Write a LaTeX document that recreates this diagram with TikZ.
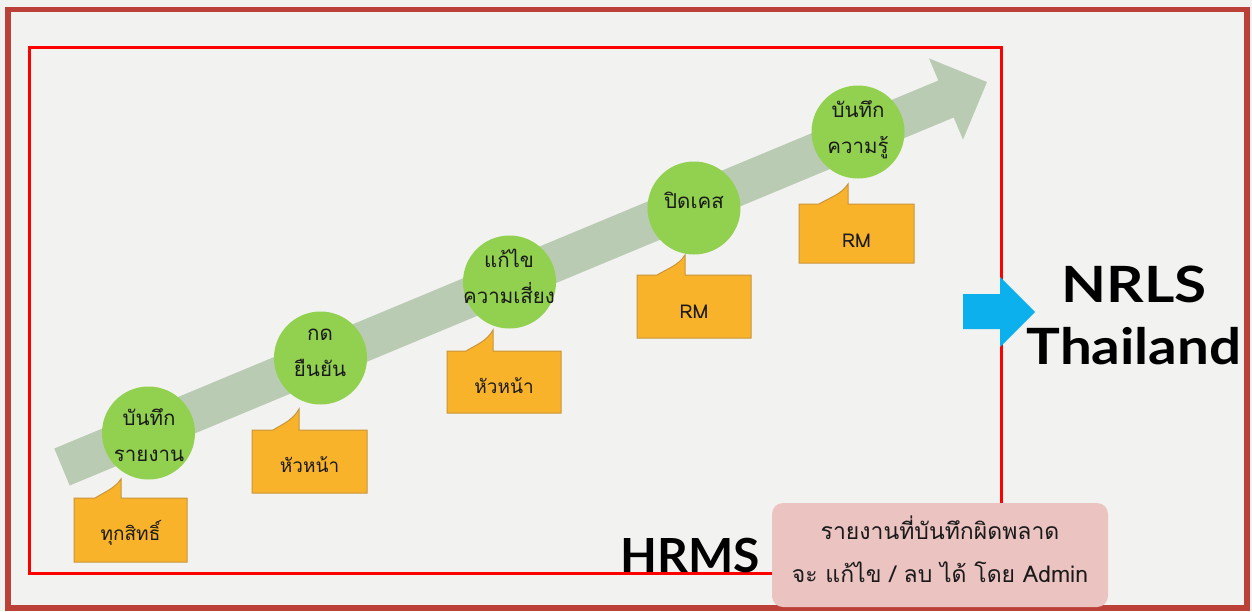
\documentclass[tikz,border=0pt]{standalone}
\usepackage{fontspec}
\setmainfont{Lato}
\newfontfamily\thaifont[Script=Thai]{Loma}
\usetikzlibrary{calc}
\definecolor{bgc}{HTML}{F2F2F0}
\definecolor{frameRed}{HTML}{BA4038}
\definecolor{innerRed}{HTML}{FF0000}
\definecolor{bandc}{HTML}{BACBB4}
\definecolor{circc}{HTML}{92D050}
\definecolor{boxc}{HTML}{F8B32B}
\definecolor{boxline}{HTML}{C9953A}
\definecolor{pinkc}{HTML}{EBC3C1}
\definecolor{bluec}{HTML}{0BB0EC}
\definecolor{txtc}{HTML}{1A1A1A}
\tikzset{
  stepcirc/.style={circle, fill=circc, draw=none, minimum size=93pt, inner sep=0pt},
  thaitxt/.style={font=\thaifont\fontsize{20.5}{36}\selectfont, text=txtc, align=center, inner sep=0pt},
  boxtxt/.style={font=\thaifont\fontsize{19}{20}\selectfont, text=txtc, inner sep=0pt},
  callout/.style={fill=boxc, draw=boxline, line width=1pt, line join=miter},
  bigtxt/.style={font=\bfseries\fontsize{47}{60}\selectfont, text=black, inner sep=0pt, align=center},
}
\begin{document}
\begin{tikzpicture}[x=1pt,y=-1pt]
\useasboundingbox (0,0) rectangle (1252,611);
\fill[bgc] (0,0) rectangle (1252,611);
% outer frame
\draw[frameRed, line width=5.5pt] (8,9.5) rectangle (1247,608);
% inner red frame
\draw[innerRed, line width=3pt] (29.5,47.5) rectangle (1001,573.5);
% big green arrow band
\fill[bandc] (54.3,448.5) -- (938.3,80.5) -- (929,58.4) -- (987,82) -- (963,139.6) -- (953.7,117.5) -- (69.7,485.5) -- cycle;
% circles
\node[stepcirc] (c1) at (148.5,433) {};
\node[stepcirc] (c2) at (320.5,358) {};
\node[stepcirc] (c3) at (509.5,282) {};
\node[stepcirc] (c4) at (694,208) {};
\node[stepcirc] (c5) at (858,132) {};
\node[thaitxt] (t1) at (149,435) {บันทึก\\รายงาน};
\node[thaitxt] (t2) at (320,353) {กด\\ยืนยัน};
\node[thaitxt] (t3) at (509,276) {แก้ไข\\ความเสี่ยง};
\node[thaitxt] (t4) at (694,200) {ปิดเคส};
\node[thaitxt] (t5) at (858,130) {บันทึก\\ความรู้};
% callouts
\draw[callout] (74,498) -- (95,498) .. controls (105,492) and (115,488) .. (121,479) -- (121,498) -- (187,498) -- (187,562) -- (74,562) -- cycle;
\node[boxtxt] (b1) at (130.5,533) {ทุกสิทธิ์};
\draw[callout] (252,430) -- (273,430) .. controls (283,424) and (293,420) .. (299,409) -- (299,430) -- (367,430) -- (367,493) -- (252,493) -- cycle;
\node[boxtxt] (b2) at (309.5,465) {หัวหน้า};
\draw[callout] (447,351) -- (466,351) .. controls (476,345) and (487,341) .. (493,330) -- (493,351) -- (561,351) -- (561,413) -- (447,413) -- cycle;
\node[boxtxt] (b3) at (504,386) {หัวหน้า};
\draw[callout] (637,275) -- (657,275) .. controls (667,269) and (679,265) .. (685,255) -- (685,275) -- (751,275) -- (751,338) -- (637,338) -- cycle;
\node[boxtxt] (b4) at (694,312) {RM};
\draw[callout] (799,204) -- (819,204) .. controls (829,198) and (842,194) .. (848,184) -- (848,204) -- (914,204) -- (914,263) -- (799,263) -- cycle;
\node[boxtxt] (b5) at (856.5,241) {RM};
% blue arrow
\fill[bluec] (963,294) -- (1000,294) -- (1000,277) -- (1035,312) -- (1000,347) -- (1000,329) -- (963,329) -- cycle;
% NRLS Thailand
\node[bigtxt, font=\bfseries\fontsize{50}{60}\selectfont] (nrls) at (1134,284) {\scalebox{1.17}[1]{NRLS}};
\node[bigtxt, font=\bfseries\fontsize{50}{60}\selectfont] (thai) at (1134,346) {\scalebox{1.13}[1]{Thailand}};
% HRMS
\node[bigtxt, anchor=base] (hrms) at (690,572) {\scalebox{1.02}[1]{HRMS}};
% pink note
\fill[pinkc, rounded corners=11pt] (772,503) rectangle (1108,607);
\node[font=\thaifont\fontsize{23}{43}\selectfont, text=txtc, align=center, inner sep=0pt] (note) at (940,549) {รายงานที่บันทึกผิดพลาด\\จะ แก้ไข / ลบ ได้ โดย Admin};
\end{tikzpicture}
\end{document}
